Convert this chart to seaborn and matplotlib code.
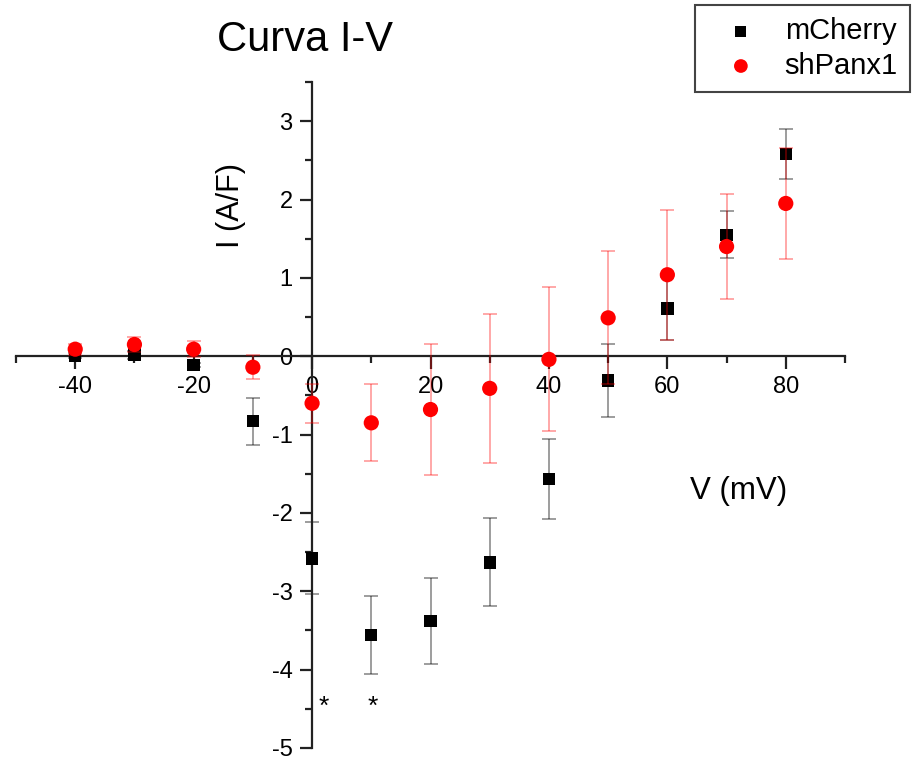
import matplotlib
matplotlib.use("Agg")
import matplotlib.pyplot as plt
from matplotlib.ticker import MultipleLocator
import seaborn as sns
import pandas as pd

sns.set_style("white")
plt.rcParams['font.family'] = ['Liberation Sans', 'DejaVu Sans']
plt.rcParams['text.color'] = 'black'
plt.rcParams['xtick.color'] = 'black'
plt.rcParams['ytick.color'] = 'black'

voltage = [-40, -30, -20, -10, 0, 10, 20, 30, 40, 50, 60, 70, 80]
mcherry_i = [0.01, 0.02, -0.11, -0.83, -2.58, -3.56, -3.38, -2.63, -1.57, -0.31, 0.61, 1.55, 2.58]
mcherry_err = [0.03, 0.05, 0.03, 0.30, 0.46, 0.50, 0.55, 0.56, 0.51, 0.47, 0.40, 0.30, 0.32]
shpanx_i = [0.09, 0.15, 0.09, -0.14, -0.60, -0.85, -0.68, -0.41, -0.04, 0.49, 1.04, 1.40, 1.95]
shpanx_err = [0.07, 0.10, 0.10, 0.15, 0.25, 0.49, 0.84, 0.95, 0.92, 0.85, 0.83, 0.67, 0.71]
star_x = [2, 10.3]
star_y = [-4.47, -4.47]
series_names = ["mCherry", "shPanx1"]

df_m = pd.DataFrame({"V": voltage, "I": mcherry_i, "err": mcherry_err})
df_s = pd.DataFrame({"V": voltage, "I": shpanx_i, "err": shpanx_err})

fig = plt.figure(figsize=(9.13, 7.59), dpi=100)
ax = fig.add_axes([16/913, 11/759, (845-16)/913, (748-82)/759])

ax.errorbar(df_m["V"], df_m["I"], yerr=df_m["err"], fmt='none', ecolor='black',
            alpha=0.45, elinewidth=1.2, capsize=5, capthick=1.2, zorder=2)
sns.scatterplot(data=df_m, x="V", y="I", marker='s', color='black', s=80,
                edgecolor='none', label=series_names[0], ax=ax, zorder=3)
ax.errorbar(df_s["V"], df_s["I"], yerr=df_s["err"], fmt='none', ecolor='red',
            alpha=0.4, elinewidth=1.2, capsize=5, capthick=1.2, zorder=4)
sns.scatterplot(data=df_s, x="V", y="I", marker='o', color='red', s=120,
                edgecolor='none', label=series_names[1], ax=ax, zorder=5)

for sx, sy in zip(star_x, star_y):
    ax.text(sx, sy, "*", ha='center', va='center', fontsize=19, color='black')

ax.set_xlim(-50, 90)
ax.set_ylim(-5, 3.5)
ax.spines['left'].set_position(('data', 0))
ax.spines['bottom'].set_position(('data', 0))
ax.spines['top'].set_visible(False)
ax.spines['right'].set_visible(False)
for s in ['left', 'bottom']:
    ax.spines[s].set_linewidth(1.6)
    ax.spines[s].set_color('#222222')
ax.xaxis.set_major_locator(MultipleLocator(20))
ax.xaxis.set_minor_locator(MultipleLocator(10))
ax.yaxis.set_major_locator(MultipleLocator(1))
ax.yaxis.set_minor_locator(MultipleLocator(0.5))
ax.tick_params(which='both', bottom=True, left=True, top=False, right=False)
ax.tick_params(which='major', direction='out', length=9, width=1.6, labelsize=17,
               color='#222222', labelcolor='black', pad=5)
ax.tick_params(which='minor', direction='out', length=5, width=1.6, color='#222222')
ax.set_xticks([-40, -20, 0, 20, 40, 60, 80])
ax.set_xticklabels(["-40", "-20", "0", "20", "40", "60", "80"])
ax.set_yticks([-5, -4, -3, -2, -1, 0, 1, 2, 3])
ax.set_yticklabels(["-5", "-4", "-3", "-2", "-1", "0", "1", "2", "3"])
ax.set_xlabel("")
ax.set_ylabel("")
ax.grid(False)

fig.text(217/913, 1 - 40/759, "Curva I-V", fontsize=30, ha='left', va='center')
fig.text(231/913, 1 - 205/759, "I (A/F)", fontsize=22, rotation=90, ha='center', va='center')
fig.text(739/913, 1 - 491/759, "V (mV)", fontsize=22.5, ha='center', va='center')

handles, labels = ax.get_legend_handles_labels()
ax.get_legend().remove()
leg = fig.legend(handles, labels, loc='upper right', bbox_to_anchor=(910/913, 1 - 5/759),
                 borderaxespad=0, fontsize=21, frameon=True, fancybox=False,
                 edgecolor='#444444', framealpha=1, handletextpad=0.35,
                 handlelength=2.3, borderpad=0.42, labelspacing=0.22,
                 markerscale=0.9)
leg.get_frame().set_linewidth(1.5)

fig.savefig("out.png", dpi=100)
